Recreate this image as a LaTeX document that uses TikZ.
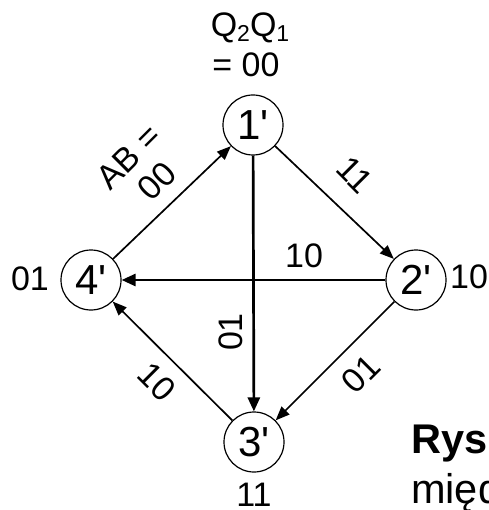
\documentclass[tikz,border=0pt]{standalone}
\usepackage{fontspec}
\setmainfont{Liberation Sans}[Ligatures=TeXOff]
\usetikzlibrary{arrows.meta}
\begin{document}
\begin{tikzpicture}[x=1pt,y=-1pt,
  state/.style={circle,draw,line width=1.2pt,minimum size=60pt,inner sep=0pt,font=\fontsize{42}{44}\selectfont},
  lbl/.style={inner sep=0pt,font=\fontsize{34}{36}\selectfont},
  bigtxt/.style={inner sep=0pt,font=\fontsize{41.5}{44}\selectfont},
  thinarr/.style={line width=1.7pt,-{Triangle[length=14pt,width=11pt]}},
  thickarr/.style={line width=2.7pt,-{Triangle[length=14pt,width=12pt]}}]
\path[use as bounding box, clip] (0,0) rectangle (488,510);
% states
\node[state] (n1) at (253,125) {1'};
\node[state] (n2) at (416,280) {2'};
\node[state] (n3) at (254,442) {3'};
\node[state] (n4) at (91,280) {4'};
% state codes
\node[lbl,anchor=base] (q) at (250,37) {Q\raisebox{-5pt}{\fontsize{23}{23}\selectfont 2}Q\raisebox{-5pt}{\fontsize{23}{23}\selectfont 1}};
\node[lbl,anchor=base] (q1) at (246,77) {= 00};
\node[lbl] (c4) at (30,279) {01};
\node[lbl] (c2) at (469,277) {10};
\node[lbl] (c3) at (254,495) {11};
% transitions
\draw[thinarr] (n4) -- (n1);
\draw[thinarr] (n1) -- (n2);
\draw[thinarr] (n2) -- (n3);
\draw[thinarr] (n3) -- (n4);
\draw[thickarr] (n2) -- (n4);
\draw[thickarr] (n1) -- (n3);
% transition labels
\node[lbl,rotate=45] (ab) at (129,157) {AB =};
\node[lbl,rotate=45] (ab0) at (157,181) {00};
\node[lbl,rotate=-45] (t12) at (355,175) {11};
\node[lbl] (t24) at (304,256) {10};
\node[lbl,rotate=90] (t13) at (231,332) {01};
\node[lbl,rotate=45] (t23) at (361,374) {01};
\node[lbl,rotate=-45] (t34) at (157,382) {10};
% caption (cut off at the right edge)
\node[bigtxt,anchor=base west] (rys) at (411,453) {\bfseries Rys.};
\node[bigtxt,anchor=base west] (mie) at (411,503) {między};
\end{tikzpicture}
\end{document}
